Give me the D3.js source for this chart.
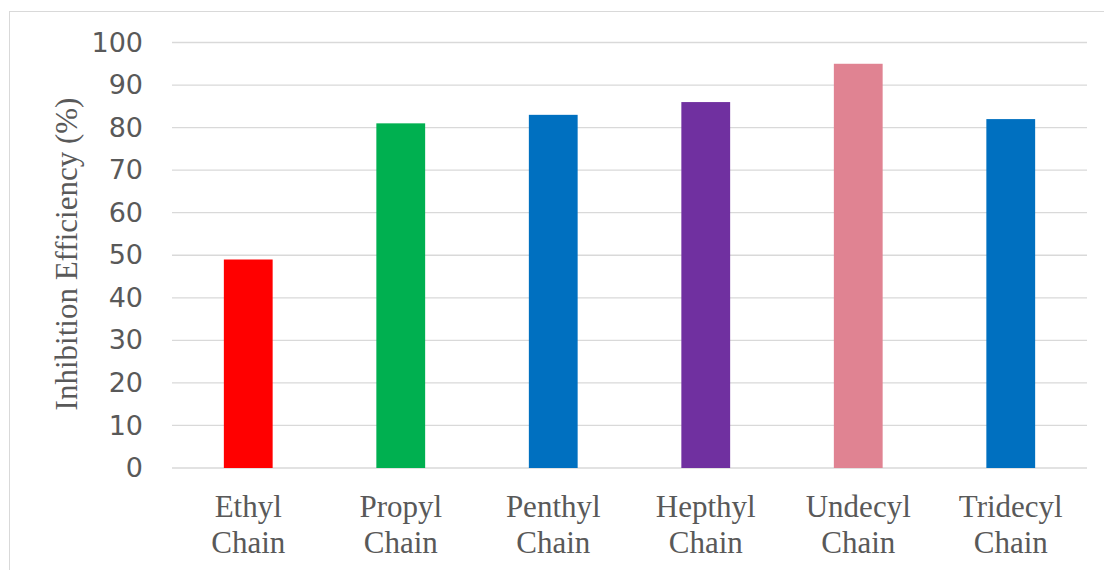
<!DOCTYPE html>
<html>
<head>
<meta charset="utf-8">
<script src="https://cdn.jsdelivr.net/npm/d3@7"></script>
<style>
  html, body { margin: 0; padding: 0; background: #fff; }
  svg { display: block; }
</style>
</head>
<body>
<svg id="chart" width="1104" height="570"></svg>
<script>
// Inhibition efficiency by alkyl chain length
const categories = [["Ethyl", "Chain"], ["Propyl", "Chain"], ["Penthyl", "Chain"],
                    ["Hepthyl", "Chain"], ["Undecyl", "Chain"], ["Tridecyl", "Chain"]];
const efficiency = [49, 81, 83, 86, 95, 82];
const barColors = ["#FF0000", "#00B050", "#0070C0", "#7030A0", "#E08392", "#0070C0"];
const yTicks = [0, 10, 20, 30, 40, 50, 60, 70, 80, 90, 100];
const yTitle = "Inhibition Efficiency (%)";

const svg = d3.select("#chart");
const textColor = "#595959";
const gridColor = "#d9d9d9";

// chart frame
svg.append("rect")
  .attr("x", 9.5).attr("y", 11.5)
  .attr("width", 1200).attr("height", 700)
  .attr("fill", "none").attr("stroke", gridColor).attr("stroke-width", 1);

const plot = { left: 172, right: 1087, top: 42.5, bottom: 468 };

const x = d3.scaleBand()
  .domain(d3.range(categories.length))
  .range([plot.left, plot.right])
  .paddingInner(0.68)
  .paddingOuter(0.34);

const y = d3.scaleLinear().domain([0, 100]).range([plot.bottom, plot.top]);

// horizontal gridlines
svg.append("g")
  .selectAll("line")
  .data(yTicks)
  .join("line")
  .attr("x1", plot.left).attr("x2", plot.right)
  .attr("y1", d => y(d)).attr("y2", d => y(d))
  .attr("stroke", gridColor).attr("stroke-width", 1.3);

// y axis tick labels
const yAxis = svg.append("g")
  .attr("transform", `translate(${plot.left - 29},0)`)
  .call(d3.axisLeft(y).tickValues(yTicks).tickSize(0).tickPadding(0));
yAxis.select(".domain").remove();
yAxis.selectAll("text")
  .attr("font-family", "'DejaVu Sans', sans-serif")
  .attr("font-size", 27)
  .attr("fill", textColor);

// bars
svg.append("g")
  .selectAll("rect")
  .data(efficiency)
  .join("rect")
  .attr("x", (d, i) => x(i))
  .attr("width", x.bandwidth())
  .attr("y", d => y(d))
  .attr("height", d => y(0) - y(d))
  .attr("fill", (d, i) => barColors[i]);

// category labels (two lines each)
const catLabels = svg.append("g")
  .selectAll("text")
  .data(categories)
  .join("text")
  .attr("x", (d, i) => x(i) + x.bandwidth() / 2)
  .attr("y", 516.5)
  .attr("text-anchor", "middle")
  .attr("font-family", "'Liberation Serif', 'Times New Roman', serif")
  .attr("font-size", 31)
  .attr("fill", textColor);
catLabels.each(function(d, i) {
  const t = d3.select(this);
  d.forEach((line, k) => {
    t.append("tspan")
      .attr("x", x(i) + x.bandwidth() / 2)
      .attr("dy", k === 0 ? 0 : 36.5)
      .text(line);
  });
});

// y axis title
svg.append("text")
  .attr("transform", "translate(77,254) rotate(-90)")
  .attr("text-anchor", "middle")
  .attr("font-family", "'Liberation Serif', 'Times New Roman', serif")
  .attr("font-size", 31)
  .attr("fill", textColor)
  .text(yTitle);
</script>
</body>
</html>
